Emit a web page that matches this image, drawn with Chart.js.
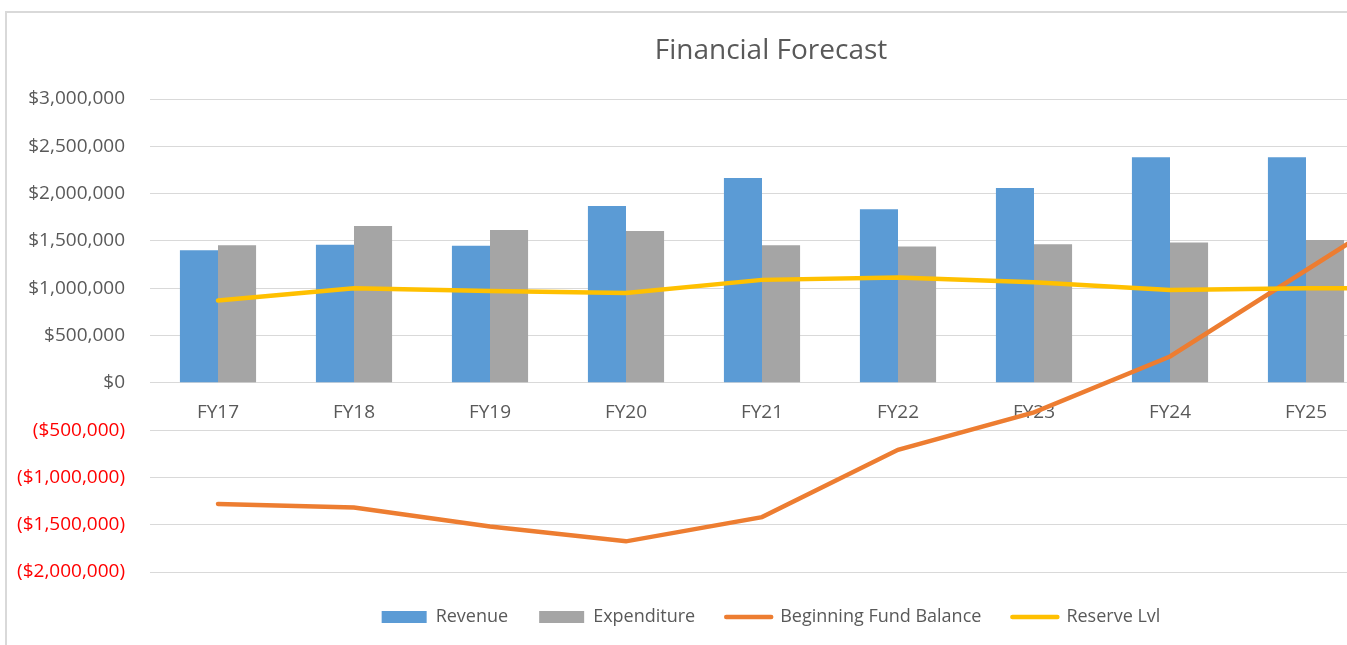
<!DOCTYPE html>
<html>
<head>
<meta charset="utf-8">
<title>Financial Forecast</title>
<script src="https://cdn.jsdelivr.net/npm/chart.js@4.4.1/dist/chart.umd.min.js"></script>
<style>
    html, body { margin: 0; padding: 0; background: #fff; overflow: hidden; }
    #frame { position: absolute; left: 5px; top: 11px; width: 2000px; height: 2000px; border: 2px solid #d9d9d9; }
    #myChart { position: absolute; left: 0; top: 0; }
</style>
</head>
<body>
<div id="frame"></div>
<canvas id="myChart" width="1540" height="645"></canvas>
<script>
// 数据 (FY26 只露出折线的一段, 柱子在画面外)
var years = ["FY17", "FY18", "FY19", "FY20", "FY21", "FY22", "FY23", "FY24", "FY25", "FY26"];
var revenue = [1400000, 1460000, 1450000, 1870000, 2165000, 1835000, 2060000, 2385000, 2385000, null];
var expenditure = [1455000, 1658000, 1616000, 1605000, 1455000, 1440000, 1465000, 1482000, 1510000, null];
var fundBalance = [-1280000, -1318000, -1518000, -1676000, -1420000, -708000, -312000, 278000, 1190000, 2100000];
var reserveLvl = [870000, 1000000, 970000, 950000, 1088000, 1112000, 1064000, 982000, 1000000, 1000000];

var yMin = -2000000, yMax = 3000000, yStep = 500000;

var textColor = "#595959";
var gridColor = "#d9d9d9";
var fontName = "'Open Sans', 'Noto Sans', sans-serif";

function money(v) {
    var s = "$" + Math.abs(v).toLocaleString("en-US");
    return v < 0 ? "(" + s + ")" : s;
}

var data = {
    labels: years,
    datasets: [
        {
            type: "line",
            label: "Beginning Fund Balance",
            data: fundBalance,
            borderColor: "#ED7D31",
            backgroundColor: "#ED7D31",
            borderWidth: 4.5,
            borderCapStyle: "round",
            pointRadius: 0,
            tension: 0,
            order: 2
        },
        {
            type: "line",
            label: "Reserve Lvl",
            data: reserveLvl,
            borderColor: "#FFC000",
            backgroundColor: "#FFC000",
            borderWidth: 4.5,
            borderCapStyle: "round",
            pointRadius: 0,
            tension: 0,
            order: 1
        },
        {
            type: "bar",
            label: "Revenue",
            data: revenue,
            backgroundColor: "#5B9BD5",
            categoryPercentage: 0.56,
            barPercentage: 1,
            order: 3
        },
        {
            type: "bar",
            label: "Expenditure",
            data: expenditure,
            backgroundColor: "#A5A5A5",
            categoryPercentage: 0.56,
            barPercentage: 1,
            order: 3
        }
    ]
};

// 图例顺序: 柱子在前, 折线在后
var legendOrder = [2, 3, 0, 1];

var ctx = document.getElementById("myChart").getContext("2d");
var myChart = new Chart(ctx, {
    type: "bar",
    data: data,
    options: {
        responsive: false,
        animation: false,
        layout: { padding: { left: 32, right: 30, top: 0, bottom: 9 } },
        plugins: {
            title: {
                display: true,
                text: "Financial Forecast",
                color: textColor,
                font: { family: fontName, size: 28, weight: "normal" },
                padding: { top: 34, bottom: 31.4 }
            },
            legend: {
                position: "bottom",
                // 空标题只用来在图例上方留点空
                title: { display: true, text: "", font: { size: 1 }, padding: { top: 3.8, bottom: 0 } },
                labels: {
                    color: textColor,
                    font: { family: fontName, size: 18 },
                    usePointStyle: true,
                    pointStyleWidth: 45,
                    boxHeight: 12,
                    padding: 31,
                    generateLabels: function (chart) {
                        return legendOrder.map(function (i) {
                            var ds = chart.data.datasets[i];
                            var isLine = ds.type === "line";
                            return {
                                text: ds.label,
                                datasetIndex: i,
                                fillStyle: ds.backgroundColor,
                                strokeStyle: isLine ? ds.borderColor : ds.backgroundColor,
                                lineWidth: isLine ? 4.5 : 0,
                                lineCap: "round",
                                pointStyle: isLine ? "line" : "rect",
                                fontColor: textColor,
                                hidden: false
                            };
                        });
                    }
                }
            },
            tooltip: { enabled: false }
        },
        scales: {
            x: {
                position: { y: 0 },
                grid: { display: false },
                border: { display: true, color: gridColor, width: 1 },
                ticks: {
                    color: textColor,
                    font: { family: fontName, size: 19 },
                    padding: 10,
                    maxRotation: 0
                }
            },
            y: {
                min: yMin,
                max: yMax,
                afterFit: function (scale) {
                    scale.width = 118;
                    // 长的负数标签超出轴的宽度, 不要裁掉
                    scale._computeLabelArea = function () { return undefined; };
                },
                grid: { color: gridColor, lineWidth: 1, drawTicks: false },
                border: { display: false },
                ticks: {
                    stepSize: yStep,
                    padding: 25,
                    font: { family: fontName, size: 19 },
                    color: function (c) { return c.tick && c.tick.value < 0 ? "#FF0000" : textColor; },
                    callback: function (v) { return money(v); }
                }
            }
        }
    }
});
</script>
</body>
</html>
